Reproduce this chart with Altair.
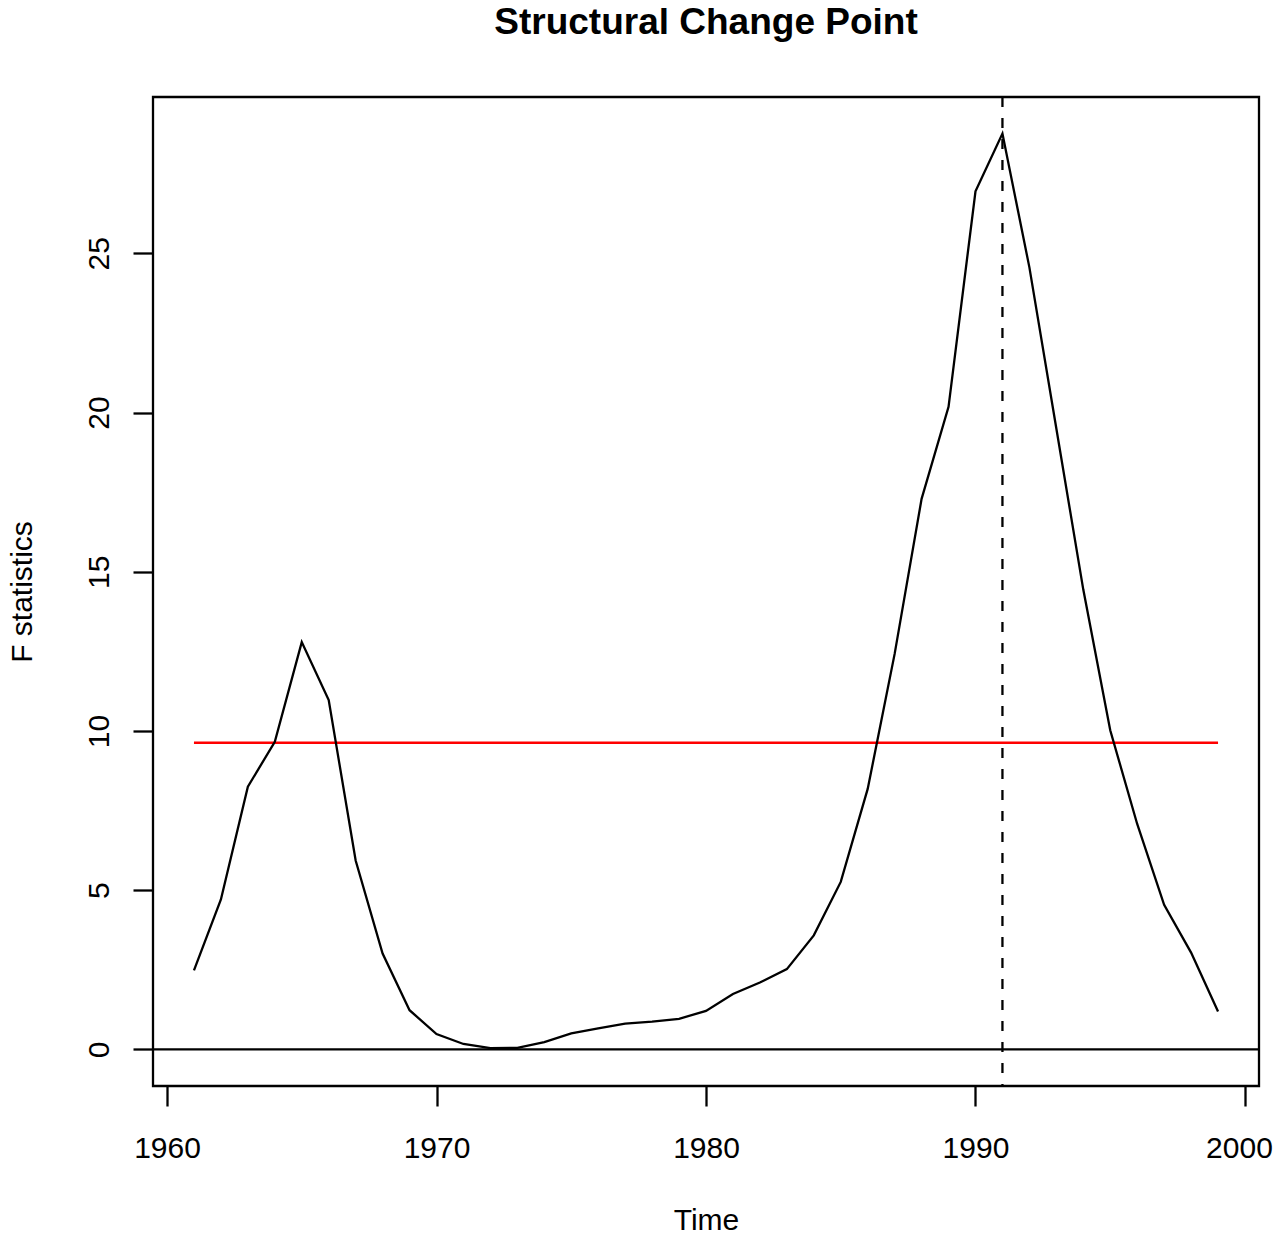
import altair as alt
import pandas as pd

years = list(range(1961, 2000))
fstats = [2.48, 4.71, 8.25, 9.66, 12.79, 10.97, 5.93, 3.01, 1.23, 0.48,
          0.17, 0.04, 0.05, 0.23, 0.50, 0.66, 0.81, 0.87, 0.96, 1.21,
          1.74, 2.10, 2.52, 3.58, 5.26, 8.18, 12.42, 17.29, 20.18, 26.95,
          28.76, 24.56, 19.50, 14.44, 10.02, 7.08, 4.54, 3.04, 1.19]
crit_value = 9.63
break_year = 1991
x_ticks = [1960, 1970, 1980, 1990, 2000]
y_ticks = [0, 5, 10, 15, 20, 25]

FONT = "Liberation Sans"
LW = 2.3

df = pd.DataFrame({"Time": years, "F": fstats})
crit_df = pd.DataFrame({"x1": [years[0]], "x2": [years[-1]], "y": [crit_value]})

xscale = alt.Scale(domain=[1959.48, 2000.52], nice=False, zero=False)
yscale = alt.Scale(domain=[-1.15, 29.91], nice=False, zero=False)

xaxis = alt.Axis(values=x_ticks, format="d", grid=False, domain=False,
                 tickSize=20, tickWidth=LW, tickColor="black",
                 labelFont=FONT, labelFontSize=30, labelColor="black",
                 labelBaseline="alphabetic", labelPadding=51,
                 labelOffset={"condition": {"test": "datum.value == 2000", "value": -6},
                              "value": 0},
                 labelFlush=False, labelOverlap=False,
                 title="Time", titleFont=FONT, titleFontSize=30,
                 titleFontWeight="normal", titleColor="black",
                 titleBaseline="alphabetic", titleY=143, titleX=553)
yaxis = alt.Axis(values=y_ticks, format="d", grid=False, domain=False,
                 tickSize=20, tickWidth=LW, tickColor="black",
                 labelFont=FONT, labelFontSize=30, labelColor="black",
                 labelAngle=270, labelAlign="center",
                 labelBaseline="alphabetic", labelPadding=25,
                 labelFlush=False, labelOverlap=False,
                 title="F statistics", titleFont=FONT, titleFontSize=30,
                 titleFontWeight="normal", titleColor="black",
                 titleAngle=270, titleAlign="center",
                 titleBaseline="alphabetic", titleX=-122, titleY=494.5)

line = alt.Chart(df).mark_line(color="black", strokeWidth=LW).encode(
    x=alt.X("Time:Q", scale=xscale, axis=xaxis),
    y=alt.Y("F:Q", scale=yscale, axis=yaxis),
)

zero = alt.Chart(pd.DataFrame({"y": [0]})).mark_rule(
    color="black", strokeWidth=LW).encode(y=alt.Y("y:Q", scale=yscale))

crit = alt.Chart(crit_df).mark_rule(color="#FF0000", strokeWidth=LW).encode(
    x=alt.X("x1:Q", scale=xscale),
    x2="x2:Q",
    y=alt.Y("y:Q", scale=yscale),
)

brk = alt.Chart(pd.DataFrame({"x": [break_year]})).mark_rule(
    color="black", strokeWidth=LW, strokeDash=[10, 11]).encode(
    x=alt.X("x:Q", scale=xscale))

chart = alt.layer(zero, crit, line, brk).properties(
    width=1106, height=989,
    title=alt.TitleParams("Structural Change Point", font=FONT, fontSize=37,
                          fontWeight="bold", color="black", anchor="middle",
                          frame="group", offset=54),
    autosize=alt.AutoSizeParams(type="none"),
    padding={"left": 145, "top": 89, "right": 14, "bottom": 144},
    background="white",
).configure_view(stroke="black", strokeWidth=LW)

chart.save("out.html", embed_options={"renderer": "svg", "actions": False})
